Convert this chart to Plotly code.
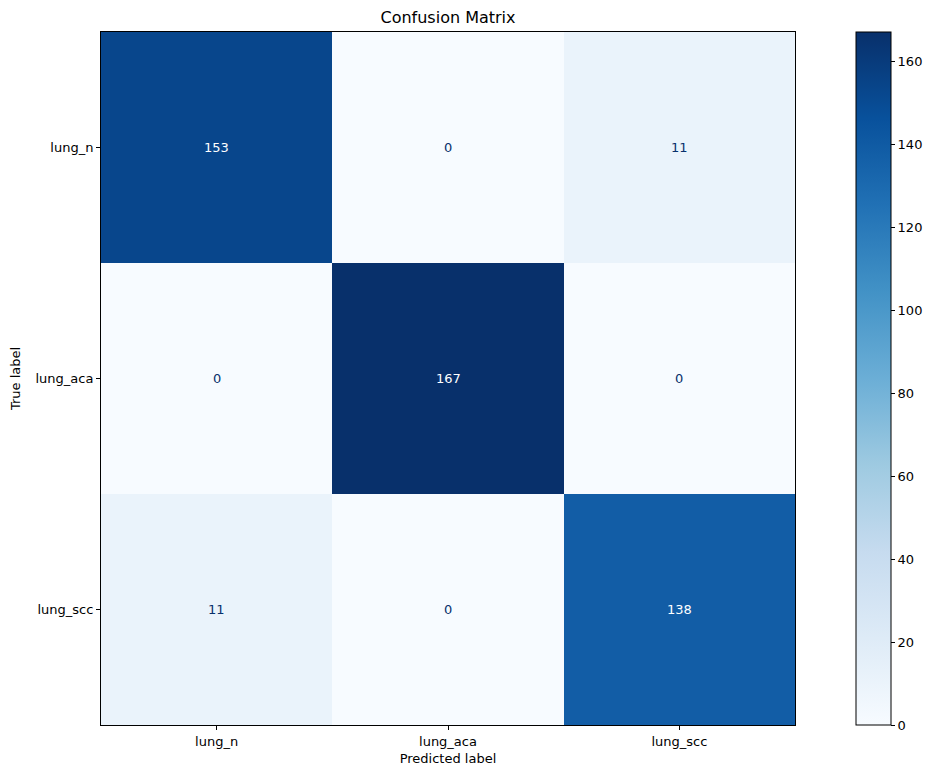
import plotly.graph_objects as go

labels = ['lung_n', 'lung_aca', 'lung_scc']
counts = [[153, 0, 11],
          [0, 167, 0],
          [11, 0, 138]]
cbar_ticks = [0, 20, 40, 60, 80, 100, 120, 140, 160]

# matplotlib "Blues"
blues = ['#f7fbff', '#deebf7', '#c6dbef', '#9ecae1', '#6baed6',
         '#4292c6', '#2171b5', '#08519c', '#08306b']
scale = [[i / (len(blues) - 1), c] for i, c in enumerate(blues)]

vmax = max(max(r) for r in counts)
vmin = min(min(r) for r in counts)

# page body has an 8px margin, so the figure is 8px smaller than the window
W, H = 929, 770

fig = go.Figure(go.Heatmap(
    z=counts, x=labels, y=labels,
    colorscale=scale, zmin=vmin, zmax=vmax,
    colorbar=dict(x=1.088, xanchor='left', y=0, yanchor='bottom', len=1,
                  xpad=0, ypad=0,
                  thickness=35, outlinewidth=1, outlinecolor='black',
                  tickvals=cbar_ticks, ticks='outside', ticklen=4,
                  tickcolor='black', tickfont=dict(size=13, color='black')),
    hoverinfo='skip'))

thresh = (vmax + vmin) / 2
for i, row in enumerate(counts):
    for j, v in enumerate(row):
        fig.add_annotation(x=labels[j], y=labels[i], text=str(v), showarrow=False,
                           font=dict(size=13, color='white' if v > thresh else '#08306b'))

axis = dict(showline=True, mirror=True, linecolor='black', linewidth=1,
            ticks='outside', ticklen=4, tickcolor='black', showgrid=False,
            zeroline=False, tickfont=dict(size=13, color='black'))
fig.update_xaxes(**axis, title=dict(text='Predicted label', font=dict(size=13, color='black'), standoff=6))
fig.update_yaxes(**axis, autorange='reversed',
                 title=dict(text='True label', font=dict(size=13, color='black'), standoff=12))

fig.update_layout(
    width=W, height=H,
    margin=dict(l=93, r=142, t=24, b=53, autoexpand=False),
    paper_bgcolor='white', plot_bgcolor='white',
    font=dict(family='DejaVu Sans'),
    title=dict(text='Confusion Matrix', x=(93 + W - 142) / 2 / W, xanchor='center',
               y=1 - 9 / H, yanchor='middle', font=dict(size=16, color='black')))

fig.write_html('out.html')
